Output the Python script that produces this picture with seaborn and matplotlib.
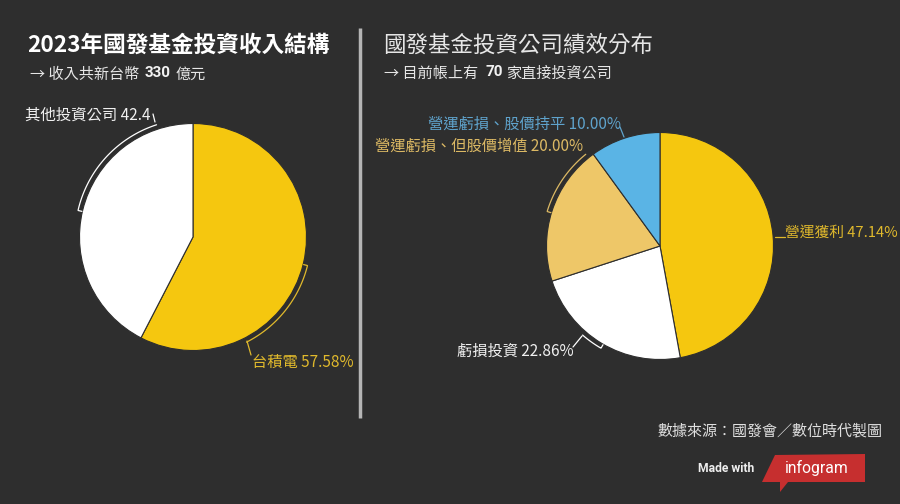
import numpy as np
import matplotlib
matplotlib.use("Agg")
import matplotlib.pyplot as plt
import seaborn as sns

BG = "#2e2e2e"
YELLOW = "#f5c70f"
TAN = "#eec768"
BLUE = "#5ab4e5"
WHITE = "#ffffff"
YELLOW_TEXT = "#e0b92c"
TAN_TEXT = "#dcb964"
BLUE_TEXT = "#5fa3cc"

# data
income_labels = ["台積電", "其他投資公司"]
income_values = [57.58, 42.42]
income_colors = [YELLOW, WHITE]

perf_labels = ["營運獲利", "虧損投資", "營運虧損、但股價增值", "營運虧損、股價持平"]
perf_values = [47.14, 22.86, 20.00, 10.00]
perf_colors = [YELLOW, WHITE, TAN, BLUE]

sns.set_theme(style="dark", rc={"figure.facecolor": BG, "axes.facecolor": BG, "savefig.facecolor": BG})
plt.rcParams["font.family"] = ["Noto Sans CJK TC", "DejaVu Sans"]

W, H = 900, 504
fig = plt.figure(figsize=(W / 100, H / 100), dpi=100)

# overlay in pixel coordinates for texts and leader lines
overlay = fig.add_axes([0, 0, 1, 1], zorder=3)
overlay.set_xlim(0, W)
overlay.set_ylim(H, 0)
overlay.axis("off")
overlay.patch.set_alpha(0)


def draw_pie(cx, cy, r, values, colors):
    ax = fig.add_axes([(cx - r) / W, 1 - (cy + r) / H, 2 * r / W, 2 * r / H])
    ax.pie(values, colors=colors, startangle=90, counterclock=False, radius=1,
           wedgeprops={"edgecolor": BG, "linewidth": 0.8})
    ax.set_xlim(-1, 1)
    ax.set_ylim(-1, 1)
    ax.axis("off")


def bracket(cx, cy, start, end, color, r=118, tick=4):
    # arc beside a slice with small end turned in towards the pie, angles clockwise from top
    a = np.radians(np.linspace(start, end, 60))
    xs = cx + r * np.sin(a)
    ys = cy - r * np.cos(a)
    xs = np.r_[cx + (r - tick) * np.sin(a[0]), xs]
    ys = np.r_[cy - (r - tick) * np.cos(a[0]), ys]
    overlay.plot(xs, ys, color=color, lw=0.9, solid_joinstyle="miter")


# left pie
draw_pie(193, 237, 113.5, income_values, income_colors)
bracket(193, 237, 283, 342, WHITE)
overlay.plot([155, 153], [122, 114], color=WHITE, lw=0.9)
overlay.text(25, 115.5, f"{income_labels[1]} 42.4", color="#f0f0f0", fontsize=11.1, va="center")
bracket(193, 237, 104, 153, YELLOW_TEXT)
overlay.plot([247, 251], [341, 355], color=YELLOW_TEXT, lw=0.9)
overlay.text(252, 362, f"{income_labels[0]} {income_values[0]:.2f}%", color=YELLOW_TEXT, fontsize=11, va="center")

# right pie
draw_pie(660, 246, 113.5, perf_values, perf_colors)
overlay.plot([775, 785], [237, 237], color=YELLOW_TEXT, lw=0.9)
overlay.text(785, 233, f"{perf_labels[0]} {perf_values[0]:.2f}%", color=YELLOW_TEXT, fontsize=10.6, va="center")
bracket(660, 246, 210, 221, WHITE)
overlay.plot([582, 573], [336, 347], color=WHITE, lw=0.9)
overlay.text(574, 351, f"{perf_labels[1]} {perf_values[1]:.2f}%", color="#f0f0f0", fontsize=11, va="center", ha="right")
bracket(660, 246, 287, 321, TAN_TEXT)
overlay.text(583, 146, f"{perf_labels[2]} {perf_values[2]:.2f}%", color=TAN_TEXT, fontsize=11, va="center", ha="right")
overlay.plot([620, 624], [127, 137], color=BLUE_TEXT, lw=0.9)
overlay.text(621, 124, f"{perf_labels[3]} {perf_values[3]:.2f}%", color=BLUE_TEXT, fontsize=11, va="center", ha="right")

# titles
overlay.text(27, 45, "2023年國發基金投資收入結構", color=WHITE, fontsize=16.3, fontweight="bold", va="center")
overlay.text(30, 74, "→ 收入共新台幣", color="#e6e6e6", fontsize=10.9, va="center")
overlay.text(145, 73, "330", color="#f2f2f2", fontsize=11, fontweight="bold", va="center", family="Roboto")
overlay.text(176, 74, "億元", color="#e6e6e6", fontsize=10.9, va="center")
overlay.text(383, 45, "國發基金投資公司績效分布", color="#e6e6e6", fontsize=16.2, va="center")
overlay.text(384, 73, "→ 目前帳上有", color="#e6e6e6", fontsize=10.9, va="center")
overlay.text(486, 72, "70", color="#f2f2f2", fontsize=11, fontweight="bold", va="center", family="Roboto")
overlay.text(506, 73, "家直接投資公司", color="#e6e6e6", fontsize=10.9, va="center")

# divider
overlay.plot([360, 360], [28, 418], color="#b5b5b5", lw=2.5, solid_capstyle="butt")

# source and logo
overlay.text(882, 431, "數據來源：國發會／數位時代製圖", color="#e0e0e0", fontsize=10.8, va="center", ha="right")
overlay.text(698, 468.5, "Made with", color="#eeeeee", fontsize=8.7, fontweight="bold", va="center", family="Roboto")
overlay.fill([762, 775, 865, 865, 788, 780, 780, 762], [482, 455, 454, 482, 482, 492, 482, 482], color="#c62f2f", lw=0)
overlay.text(817, 468, "infogram", color="#ffffff", fontsize=11.3, va="center", ha="center", family="Roboto")

fig.savefig("out.png", dpi=100)
